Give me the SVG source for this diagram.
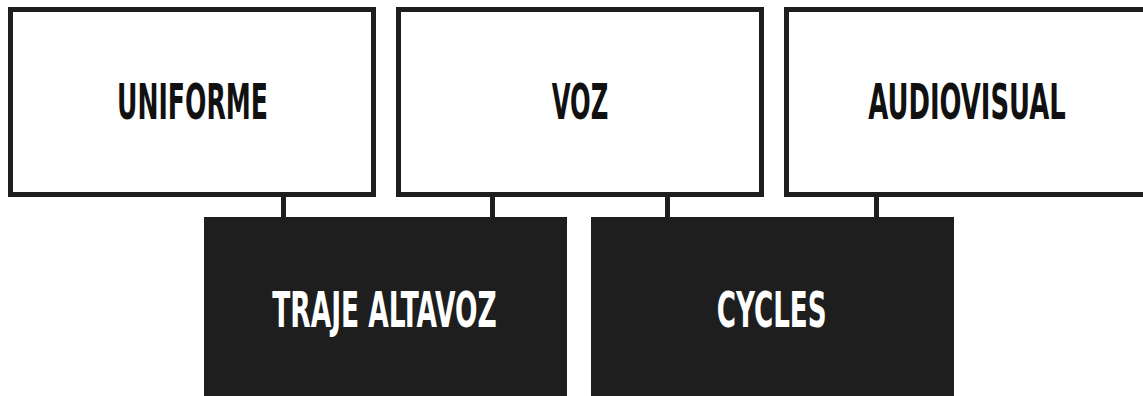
<svg xmlns="http://www.w3.org/2000/svg" width="1143" height="396" viewBox="0 0 1143 396">
<style>
.top{fill:#ffffff;stroke:#1e1e1e;stroke-width:5}
.bot{fill:#1e1e1e}
.lbl{font-family:"DejaVu Sans Condensed","DejaVu Sans","Liberation Sans",sans-serif;font-stretch:condensed;font-weight:bold;font-size:49px;text-anchor:middle}
.dark{fill:#111111}
.light{fill:#ffffff}
.conn{stroke:#1e1e1e;stroke-width:5;fill:none}
</style>
<rect width="1143" height="396" fill="#ffffff"/>
<g id="connectors">
<line class="conn" x1="283.5" y1="195" x2="283.5" y2="218"/>
<line class="conn" x1="492.5" y1="195" x2="492.5" y2="218"/>
<line class="conn" x1="667.5" y1="195" x2="667.5" y2="218"/>
<line class="conn" x1="876.5" y1="195" x2="876.5" y2="218"/>
</g>
<g id="uniforme">
<rect class="top" x="10.5" y="9.5" width="363" height="185"/>
<text class="lbl dark" x="192.5" y="119" textLength="151" lengthAdjust="spacingAndGlyphs">UNIFORME</text>
</g>
<g id="voz">
<rect class="top" x="398.5" y="9.5" width="363" height="185"/>
<text class="lbl dark" x="580" y="119" textLength="56.6" lengthAdjust="spacingAndGlyphs">VOZ</text>
</g>
<g id="audiovisual">
<rect class="top" x="786.5" y="9.5" width="363" height="185"/>
<text class="lbl dark" x="967" y="119" textLength="197.4" lengthAdjust="spacingAndGlyphs">AUDIOVISUAL</text>
</g>
<g id="traje-altavoz">
<rect class="bot" x="204" y="217" width="363" height="185"/>
<text class="lbl light" x="384.5" y="326.7" textLength="224.4" lengthAdjust="spacingAndGlyphs">TRAJE ALTAVOZ</text>
</g>
<g id="cycles">
<rect class="bot" x="591" y="217" width="363" height="185"/>
<text class="lbl light" x="771.7" y="326.7" textLength="110" lengthAdjust="spacingAndGlyphs">CYCLES</text>
</g>
</svg>
